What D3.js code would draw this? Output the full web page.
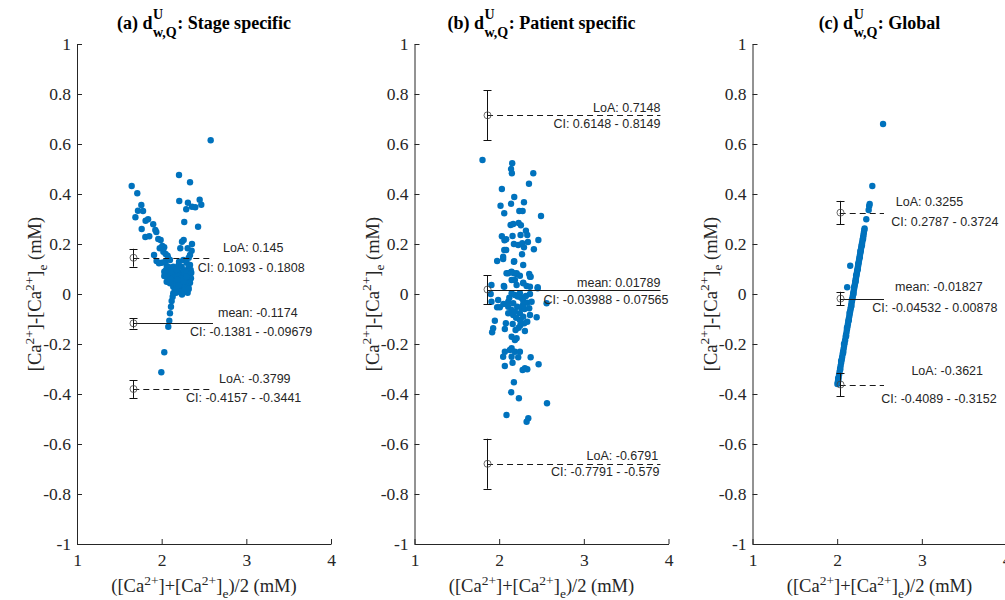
<!DOCTYPE html>
<html><head><meta charset="utf-8">
<script src="https://cdn.jsdelivr.net/npm/d3@7"></script>
<style>body{margin:0;background:#fff}svg{display:block}</style>
</head><body>
<svg id="chart" width="1005" height="600"></svg>
<script>
// ---------------- DATA ----------------
const panelLetters = ["(a)", "(b)", "(c)"];
const panelNames = ["Stage specific", "Patient specific", "Global"];
const xTicks = [1, 2, 3, 4];
const yTicks = [-1, -0.8, -0.6, -0.4, -0.2, 0, 0.2, 0.4, 0.6, 0.8, 1];

const stageX = [2.579,1.646,1.712,2.205,2.335,1.760,1.720,1.780,1.690,2.208,2.310,2.358,2.397,2.449,2.468,1.810,1.840,2.267,2.430,1.764,
1.900,1.925,1.937,1.807,1.854,1.960,1.988,2.260,2.240,2.358,2.220,2.307,2.008,2.030,1.977,2.020,2.047,2.070,1.910,2.354,
2.335,2.320,1.940,1.968,2.000,2.040,2.078,2.098,2.205,2.256,2.295,2.060,2.090,2.137,2.196,2.236,2.335,2.315,2.343,2.290,
2.031,2.059,2.090,2.118,2.157,2.196,2.216,2.248,2.276,2.307,2.335,2.031,2.078,2.137,2.185,2.236,2.279,2.319,2.346,2.059,
2.098,2.157,2.205,2.248,2.295,2.335,2.137,2.176,2.228,2.276,2.315,2.193,2.248,2.307,2.276,2.216,2.137,2.130,2.157,
2.050,2.120,2.180,2.260,2.290,2.100,2.190,2.260,2.320,2.170,2.240,2.200,2.290,2.350,
2.118,2.110,2.098,2.090,2.078,2.031,1.996];
const stageY = [0.615,0.432,0.403,0.476,0.447,0.356,0.333,0.332,0.307,0.372,0.365,0.349,0.347,0.377,0.357,0.293,0.299,0.288,0.269,0.260,
0.279,0.256,0.248,0.228,0.231,0.220,0.216,0.216,0.209,0.200,0.183,0.183,0.192,0.187,0.183,0.169,0.160,0.153,0.156,0.173,
0.156,0.145,0.132,0.123,0.125,0.129,0.143,0.136,0.129,0.136,0.125,0.112,0.107,0.109,0.113,0.109,0.116,0.103,0.096,0.339,
0.089,0.083,0.072,0.080,0.083,0.089,0.076,0.083,0.080,0.069,0.076,0.072,0.063,0.063,0.069,0.063,0.059,0.056,0.063,0.049,
0.043,0.049,0.045,0.043,0.040,0.045,0.029,0.032,0.029,0.027,0.029,0.019,0.012,0.005,0.016,0.009,0.003,-0.011,0.016,
0.095,0.092,0.098,0.095,0.088,0.058,0.056,0.050,0.020,0.005,-0.002,0.035,0.070,0.085,
-0.028,-0.051,-0.077,-0.107,-0.131,-0.233,-0.313];

const patientX = [1.803,2.154,2.140,2.150,2.403,2.352,2.032,2.178,2.016,2.140,2.293,2.060,2.238,2.277,2.494,2.135,2.166,2.230,2.257,2.316,
2.332,2.032,2.083,2.158,2.253,2.463,2.174,2.225,2.273,2.293,2.340,2.060,2.083,2.270,2.410,1.976,2.047,2.178,2.284,2.106,
2.138,2.174,2.206,2.245,2.355,2.364,1.900,2.055,2.186,2.206,2.284,2.324,2.364,2.455,2.147,2.186,2.245,2.316,2.364,
1.909,1.988,2.107,2.166,2.284,2.332,2.383,2.560,1.976,2.008,2.107,2.147,2.213,2.265,2.355,
2.107,2.166,2.245,2.186,2.284,2.364,2.443,1.949,2.079,2.245,2.296,2.332,1.929,1.917,2.067,2.194,2.304,
2.147,2.186,2.206,2.147,2.127,2.186,2.245,2.067,2.047,2.147,2.225,2.372,2.158,2.067,2.466,2.277,2.332,2.304,
2.174,2.142,2.233,2.565,2.087,2.344,2.324,
1.909,2.060,2.087,2.147,2.206,2.372,2.455,2.147,2.284,2.047,2.174,2.063,
2.220,2.260,2.120,2.050,2.300,2.200,2.250,2.230,2.160,2.280];
const patientY = [0.536,0.523,0.500,0.483,0.483,0.441,0.420,0.388,0.353,0.361,0.367,0.323,0.332,0.332,0.312,0.276,0.280,0.284,0.275,0.253,
0.236,0.231,0.219,0.232,0.236,0.216,0.200,0.196,0.203,0.187,0.208,0.176,0.176,0.159,0.179,0.132,0.140,0.131,0.116,0.083,
0.087,0.083,0.080,0.073,0.080,0.069,0.000,0.032,0.056,0.036,0.043,0.032,0.029,0.027,0.003,-0.004,0.003,-0.008,0.000,
-0.031,-0.024,-0.031,-0.037,-0.027,-0.035,-0.031,-0.037,-0.053,-0.053,-0.051,-0.064,-0.051,-0.057,-0.057,
-0.077,-0.084,-0.077,-0.071,-0.091,-0.084,-0.093,-0.107,-0.117,-0.104,-0.117,-0.111,-0.137,-0.153,-0.140,-0.144,-0.148,
-0.171,-0.184,-0.177,-0.217,-0.224,-0.231,-0.231,-0.231,-0.251,-0.251,-0.253,-0.253,-0.275,-0.288,-0.281,-0.304,-0.301,-0.297,
-0.353,-0.393,-0.417,-0.437,-0.484,-0.497,-0.511,
0.036,0.029,0.083,0.089,0.083,0.069,0.023,0.056,0.045,0.149,0.129,0.215,
-0.010,-0.015,-0.015,-0.040,-0.060,-0.095,-0.125,-0.135,-0.120,-0.045];

const globalX = [2.542,2.415,2.384,2.378,2.372,2.344,
2.324,2.320,2.315,2.311,2.307,2.301,2.296,2.292,2.288,2.284,2.280,2.276,2.271,2.267,2.263,2.259,2.255,2.250,2.246,2.241,
2.236,2.233,2.229,2.225,2.221,2.217,2.213,2.209,2.204,2.200,2.195,2.191,2.187,2.183,2.179,2.175,2.170,2.166,2.162,2.158,
2.153,2.148,2.143,2.137,2.132,2.127,2.122,2.116,2.111,2.105,2.100,2.094,2.088,2.082,2.077,2.071,2.065,2.059,2.054,2.047,
2.041,2.035,2.029,2.023,2.017,2.012,2.008,2.003,
2.306,2.293,2.275,2.268,2.250,2.243,2.224,2.218,2.199,2.192,2.174,2.167,2.147,2.137,2.116,2.106,2.081,2.071,2.047,2.036,
2.012,2.012,2.154,2.118];
const globalY = [0.680,0.432,0.360,0.352,0.336,0.299,
0.262,0.255,0.245,0.236,0.228,0.218,0.207,0.200,0.192,0.185,0.176,0.168,0.160,0.152,0.143,0.136,0.128,0.118,0.110,0.101,
0.092,0.085,0.078,0.070,0.062,0.055,0.046,0.038,0.030,0.021,0.012,0.004,-0.004,-0.012,-0.020,-0.028,-0.036,-0.045,-0.053,-0.061,
-0.070,-0.080,-0.090,-0.100,-0.110,-0.120,-0.130,-0.141,-0.152,-0.163,-0.172,-0.185,-0.196,-0.207,-0.218,-0.229,-0.240,-0.252,-0.262,-0.275,
-0.287,-0.298,-0.310,-0.322,-0.333,-0.343,-0.352,-0.360,
0.220,0.196,0.172,0.148,0.122,0.098,0.074,0.050,0.026,0.000,-0.024,-0.049,-0.075,-0.105,-0.135,-0.168,-0.200,-0.235,-0.268,-0.302,
-0.338,-0.348,0.113,0.027];

// statistics: [upper LoA, mean, lower LoA]
const statKinds = ["LoA", "mean", "LoA"];
const stageStat = [0.145, -0.1174, -0.3799];
const stageCILo = [0.1093, -0.1381, -0.4157];
const stageCIHi = [0.1808, -0.09679, -0.3441];
const patientStat = [0.7148, 0.01789, -0.6791];
const patientCILo = [0.6148, -0.03988, -0.7791];
const patientCIHi = [0.8149, 0.07565, -0.579];
const globalStat = [0.3255, -0.01827, -0.3621];
const globalCILo = [0.2787, -0.04532, -0.4089];
const globalCIHi = [0.3724, 0.00878, -0.3152];

// ---------------- LAYOUT ----------------
const W = 254, TOP = 44, BOTTOM = 544;
const panelLeft = [77, 414.5, 752.5];
const panelData = [
  {x: stageX, y: stageY, stat: stageStat, lo: stageCILo, hi: stageCIHi},
  {x: patientX, y: patientY, stat: patientStat, lo: patientCILo, hi: patientCIHi},
  {x: globalX, y: globalY, stat: globalStat, lo: globalCILo, hi: globalCIHi}
];
// error bar x, line end x (data units) and label placement (x data, anchor, dy px from line)
const layout = [
  {errX: 1.665, lineEnd: 2.606,
   lab: [[2.724,"start",-6, 2.4255,"start",14],[2.665,"start",-6.7, 2.335,"start",12.3],[2.677,"start",-5.7, 2.287,"start",13.3]]},
  {errX: 1.857, lineEnd: 3.905,
   lab: [[3.905,"end",-3.6, 3.905,"end",13],[3.905,"end",-2.8, 4.0,"end",14.5],[3.878,"end",-3.8, 3.893,"end",12.2]]},
  {errX: 2.03, lineEnd: 2.553,
   lab: [[2.692,"start",-6.6, 2.640,"start",13],[2.684,"start",-8, 2.415,"start",13.7],[2.877,"start",-9.5, 2.521,"start",18.8]]}
];

const svg = d3.select("#chart");
const AX = "#262626";
const serif = "'Liberation Serif','Times New Roman',serif";
const sans = "'Liberation Sans',Arial,Helvetica,sans-serif";
const y = d3.scaleLinear().domain([-1, 1]).range([BOTTOM, TOP]);
const crisp = v => Math.round(v) + 0.5;

function fmtY(d){ return String(+d.toFixed(1)); }

function drawTitle(g, cx, base, letter, name){
  const tg = g.append("g").attr("font-family", serif).attr("font-weight", "bold").attr("fill", "#000");
  const t1 = tg.append("text").attr("x", 0).attr("y", base).style("font-size", "18px").text(letter + " d");
  const w1 = t1.node().getComputedTextLength();
  const sup = tg.append("text").attr("x", w1 + 0.5).attr("y", base - 10).style("font-size", "14px").text("U");
  const sub = tg.append("text").attr("x", w1 + 0.5).attr("y", base + 8).style("font-size", "14px").text("w,Q");
  const w2 = Math.max(sup.node().getComputedTextLength(), sub.node().getComputedTextLength());
  const t3 = tg.append("text").attr("x", w1 + 1 + w2).attr("y", base).style("font-size", "18px").text(": " + name);
  const total = w1 + 1 + w2 + t3.node().getComputedTextLength();
  tg.attr("transform", `translate(${cx - total / 2},0)`);
}

function caLabel(t, parts){
  let shift = 0;
  parts.forEach(([s, k]) => {
    const target = k === "sup" ? -7.5 : k === "sub" ? 5.5 : 0;
    t.append("tspan").attr("dy", target - shift).style("font-size", k === "n" ? "18.5px" : "13.5px").text(s);
    shift = target;
  });
}

panelData.forEach((pd, i) => {
  const L = panelLeft[i];
  const x = d3.scaleLinear().domain([1, 4]).range([L, L + W]);
  const g = svg.append("g");
  const lay = layout[i];

  // axes
  const xa = g.append("g").attr("transform", `translate(0,${BOTTOM})`)
    .call(d3.axisBottom(x).tickValues(xTicks).tickSizeInner(-5).tickSizeOuter(0).tickPadding(10).tickFormat(d3.format("d")));
  const ya = g.append("g").attr("transform", `translate(${L},0)`)
    .call(d3.axisLeft(y).tickValues(yTicks).tickSizeInner(-5).tickSizeOuter(0).tickPadding(6).tickFormat(fmtY));
  [xa, ya].forEach(a => {
    a.selectAll("path,line").attr("stroke", AX);
    a.selectAll("text").style("font-family", serif).style("font-size", "17.5px").attr("fill", AX);
  });

  // axis labels
  const xl = g.append("text").attr("x", L + W / 2).attr("y", 592).attr("text-anchor", "middle")
    .attr("font-family", serif).attr("fill", AX);
  caLabel(xl, [["([Ca","n"],["2+","sup"],["]+[Ca","n"],["2+","sup"],["]","n"],["e","sub"],[")/2 (mM)","n"]]);
  const yl = g.append("text").attr("transform", `translate(${L - 36},${(TOP + BOTTOM) / 2}) rotate(-90)`)
    .attr("text-anchor", "middle").attr("font-family", serif).attr("fill", AX);
  caLabel(yl, [["[Ca","n"],["2+","sup"],["]-[Ca","n"],["2+","sup"],["]","n"],["e","sub"],[" (mM)","n"]]);

  // title
  drawTitle(g, L + W / 2, 29, panelLetters[i], panelNames[i]);

  // scatter
  g.append("g").selectAll("circle").data(pd.x.map((v, j) => [v, pd.y[j]])).join("circle")
    .attr("cx", d => x(d[0])).attr("cy", d => y(d[1])).attr("r", 3.2).attr("fill", "#0072BD");

  // stat lines
  pd.stat.forEach((s, k) => {
    g.append("line").attr("x1", x(lay.errX)).attr("x2", x(lay.lineEnd))
      .attr("y1", crisp(y(s))).attr("y2", crisp(y(s)))
      .attr("stroke", "#1a1a1a").attr("stroke-width", 1)
      .attr("stroke-dasharray", statKinds[k] === "LoA" ? "6,4" : null);
  });

  // error bars
  pd.stat.forEach((s, k) => {
    const ex = crisp(x(lay.errX));
    const eg = g.append("g").attr("stroke", "#111").attr("stroke-width", 1);
    eg.append("line").attr("x1", ex).attr("x2", ex).attr("y1", y(pd.lo[k])).attr("y2", y(pd.hi[k]));
    [pd.lo[k], pd.hi[k]].forEach(v => eg.append("line").attr("x1", ex - 4).attr("x2", ex + 4).attr("y1", crisp(y(v))).attr("y2", crisp(y(v))));
    g.append("circle").attr("cx", ex).attr("cy", y(s)).attr("r", 3.5).attr("fill", "none").attr("stroke", "#444").attr("stroke-width", 0.8);
  });

  // labels
  pd.stat.forEach((s, k) => {
    const l = lay.lab[k];
    g.append("text").attr("x", x(l[0])).attr("y", y(s) + l[2]).attr("text-anchor", l[1])
      .attr("font-family", sans).style("font-size", "12.5px").attr("fill", AX)
      .text(statKinds[k] + ": " + String(s));
    g.append("text").attr("x", x(l[3])).attr("y", y(s) + l[5]).attr("text-anchor", l[4])
      .attr("font-family", sans).style("font-size", "12.5px").attr("fill", AX)
      .text("CI: " + String(pd.lo[k]) + " - " + String(pd.hi[k]));
  });
});
</script>
</body></html>
